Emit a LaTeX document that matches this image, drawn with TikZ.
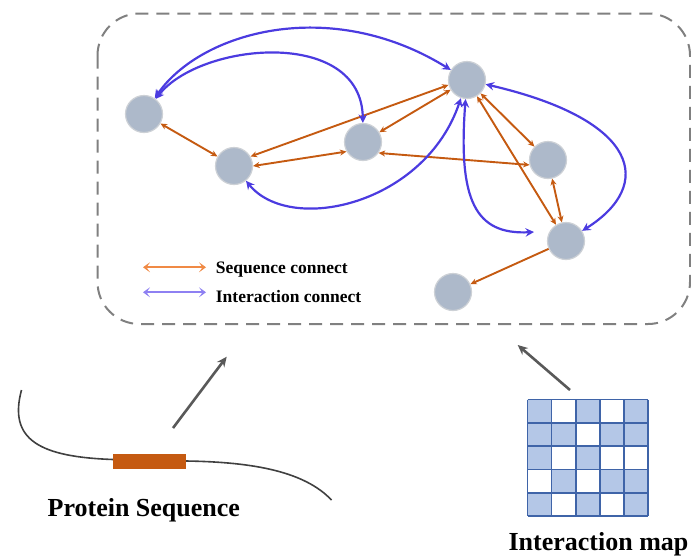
\documentclass[tikz,border=0pt]{standalone}
\usepackage{fontspec}
\setmainfont{Liberation Serif}
\usetikzlibrary{arrows.meta}
\definecolor{seqc}{HTML}{C55A11}
\definecolor{intc}{HTML}{4B3BE0}
\definecolor{seql}{HTML}{F08A45}
\definecolor{intl}{HTML}{8E80F2}
\definecolor{nodef}{HTML}{ADB9CA}
\definecolor{nodeb}{HTML}{CDD1D6}
\definecolor{gridf}{HTML}{B4C7E7}
\definecolor{gridl}{HTML}{3F64A8}
\definecolor{framec}{HTML}{808080}
\definecolor{darkg}{HTML}{595959}
\definecolor{strandc}{HTML}{404040}
\begin{document}
\begin{tikzpicture}[x=1pt,y=-1pt,
  prot/.style={circle,fill=nodef,draw=nodeb,line width=1.2pt,minimum size=37pt,inner sep=0pt},
  seq/.style={draw=seqc,line width=1.9pt,{Stealth[length=6.5pt,width=6pt]}-{Stealth[length=6.5pt,width=6pt]}},
  seqone/.style={draw=seqc,line width=1.9pt,-{Stealth[length=6.5pt,width=6pt]}},
  inter/.style={draw=intc,line width=2.2pt,{Stealth[length=8.5pt,width=8.5pt,inset=3pt]}-{Stealth[length=8.5pt,width=8.5pt,inset=3pt]}},
  legseq/.style={draw=seql,line width=2.2pt,{Stealth[length=7pt,width=10pt,inset=3.5pt]}-{Stealth[length=7pt,width=10pt,inset=3.5pt]}},
  legint/.style={draw=intl,line width=2.2pt,{Stealth[length=7pt,width=10pt,inset=3.5pt]}-{Stealth[length=7pt,width=10pt,inset=3.5pt]}},
  gar/.style={draw=darkg,line width=2.6pt,-{Stealth[length=10pt,width=9pt]}},
  bigtxt/.style={font=\fontsize{26}{30}\selectfont\bfseries,inner sep=0pt,anchor=base},
  legtxt/.style={font=\fontsize{17.5}{20}\selectfont\bfseries,inner sep=0pt,anchor=base west}
]
\useasboundingbox (0,0) rectangle (691,558);

% dashed frame
\draw[framec,line width=2pt,dash pattern=on 13pt off 8pt,rounded corners=42pt]
  (97.5,13.5) rectangle (690,324);

% proteins (nodes)
\node[prot] (A) at (144,114) {};
\node[prot] (B) at (234,166) {};
\node[prot] (C) at (363,142) {};
\node[prot] (D) at (467,80) {};
\node[prot] (E) at (548,160) {};
\node[prot] (F) at (566,241) {};
\node[prot] (G) at (453,292) {};

% sequence connections
\draw[seq] (A) -- (B);
\draw[seq] (B.0) -- (C.210);
\draw[seq] (B.30) -- (D.195);
\draw[seq] (C) -- (D);
\draw[seq] (C.-35) -- (E.195);
\draw[seq] (D) -- (E);
\draw[seq] (D) -- (F);
\draw[seq] (E) -- (F);
\draw[seqone] (F) -- (G);

% interaction connections
\coordinate (fin) at (534,232);
\draw[inter] (A) .. controls (200,32) and (330,-5) .. (D);
\draw[inter] (A) .. controls (200,42) and (362,27) .. (C);
\draw[inter] (B) .. controls (290,235) and (425,205) .. (D);
\draw[inter] (D) .. controls (458,200) and (475,235) .. (fin);
\draw[inter] (D) .. controls (640,120) and (655,185) .. (F);

% legend
\coordinate (ls0) at (143,267.3);
\coordinate (ls1) at (206,267.3);
\coordinate (li0) at (143,292.3);
\coordinate (li1) at (206,292.3);
\draw[legseq] (ls0) -- (ls1);
\draw[legint] (li0) -- (li1);
\node[legtxt] (lseq) at (215.7,273.3) {Sequence connect};
\node[legtxt] (lint) at (215.7,302) {Interaction connect};

% protein sequence strand
\draw[strandc,line width=1.6pt] (21.5,390) .. controls (8,440) and (40,457) .. (113.3,459.5)
  -- (186,461) .. controls (255,462) and (305,472) .. (331.5,500);
\fill[seqc] (113.3,453.5) rectangle (186,468.5);
\node[bigtxt] (ps) at (143.8,516.7) {Protein Sequence};

% arrows into frame
\coordinate (pa0) at (173,428);
\coordinate (pa1) at (226.7,356.7);
\draw[gar] (pa0) -- (pa1);
\coordinate (ma0) at (570,390);
\coordinate (ma1) at (517.7,345);
\draw[gar] (ma0) -- (ma1);

% interaction map grid
\foreach \r/\c in {0/0,0/2,0/4,1/0,1/1,1/3,1/4,2/0,2/2,3/1,3/3,3/4,4/0,4/2,4/4}
  \fill[gridf] ({527.5+\c*24.1},{399.5+\r*23.3}) rectangle +(24.1,23.3);
\foreach \i in {0,...,5} {
  \draw[gridl,line width=1.6pt] ({527.5+\i*24.1},399.5) -- ({527.5+\i*24.1},516);
  \draw[gridl,line width=1.6pt] (527.5,{399.5+\i*23.3}) -- (648,{399.5+\i*23.3});
}
\node[bigtxt] (im) at (598.5,550) {Interaction map};
\end{tikzpicture}
\end{document}
